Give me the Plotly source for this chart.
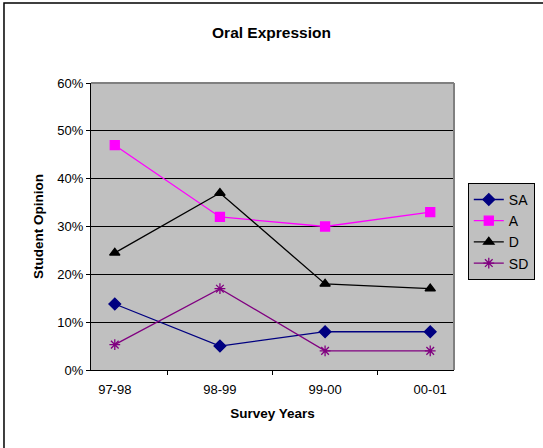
import plotly.graph_objects as go

years = ["97-98", "98-99", "99-00", "00-01"]
sa = [0.138, 0.05, 0.08, 0.08]
a = [0.47, 0.32, 0.30, 0.33]
d = [0.245, 0.37, 0.18, 0.17]
sd = [0.053, 0.17, 0.04, 0.04]

series = [
    ("SA", sa, "#000080", "diamond", 9),
    ("A", a, "#ff00ff", "square", 9),
    ("D", d, "#000000", "triangle-up", 9),
    ("SD", sd, "#800080", "asterisk-open", 9),
]

fig = go.Figure()
for name, vals, color, symbol, size in series:
    fig.add_trace(go.Scatter(
        x=years, y=vals, name=name, mode="lines+markers",
        line=dict(color=color, width=1.3),
        marker=dict(symbol=symbol, size=size, color=color,
                    line=dict(color=color, width=1.3)),
    ))

# outer chart frame
fig.add_shape(type="rect", xref="paper", yref="paper",
              x0=-0.2397, x1=1.26, y0=-0.285, y1=1.2787,
              line=dict(color="#000000", width=1.5), layer="below")

fig.update_layout(
    width=543, height=448,
    margin=dict(l=91, r=89, t=83, b=78, autoexpand=False),
    paper_bgcolor="white",
    plot_bgcolor="#c0c0c0",
    font=dict(family="Arial, Liberation Sans", size=13, color="black"),
    title=dict(text="<b>Oral Expression</b>", x=0.5, xanchor="center",
               y=1 - 33 / 448, yanchor="middle", font=dict(size=15.5)),
    showlegend=True,
    legend=dict(x=1.038, xanchor="left", y=0.652, yanchor="top",
                bgcolor="#c0c0c0", bordercolor="#000000", borderwidth=1,
                font=dict(size=14), tracegroupgap=0, itemwidth=30),
    xaxis=dict(
        type="category",
        title=dict(text="<b>Survey Years</b>", standoff=12, font=dict(size=13.5)),
        showgrid=False, showline=True, linecolor="black", linewidth=1,
        ticks="outside", ticklen=4, tickcolor="black", tickson="boundaries",
        ticklabelstandoff=7, mirror=False, zeroline=False,
    ),
    yaxis=dict(
        title=dict(text="<b>Student Opinion</b>", standoff=10, font=dict(size=13.5)),
        range=[0, 0.6], dtick=0.1, tickformat=".0%",
        showgrid=True, gridcolor="black", gridwidth=1,
        showline=True, linecolor="black", linewidth=1,
        ticks="outside", ticklen=4, tickcolor="black", zeroline=False,
    ),
)

# gray top/right border of plot area
fig.add_shape(type="line", xref="paper", yref="paper", x0=0, x1=1, y0=1, y1=1,
              line=dict(color="#808080", width=2))
fig.add_shape(type="line", xref="paper", yref="paper", x0=1, x1=1, y0=0, y1=1,
              line=dict(color="#808080", width=2))

fig.write_html("out.html", config={"displayModeBar": False},
               post_script="document.body.style.margin='0';")
